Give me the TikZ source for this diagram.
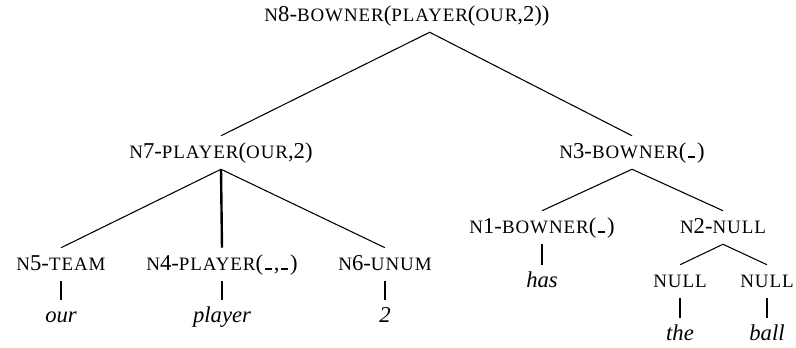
\documentclass[tikz,border=0pt]{standalone}
\usepackage{fontspec}
\setmainfont{Liberation Serif}
\newfontfamily\capsfont[LetterSpace=5]{Liberation Serif}
\usetikzlibrary{positioning}
% small capitals, faked
\newcommand{\sml}[1]{{\capsfont\fontsize{14.2}{15}\selectfont #1}}
% empty argument slot
\newcommand{\slot}{\kern1.5pt\rule{5pt}{1.3pt}\kern1.5pt}

\begin{document}
\begin{tikzpicture}[x=0.75pt,y=-0.75pt,
    lab/.style={font=\fontsize{17}{18}\selectfont, anchor=base, inner xsep=0pt, inner ysep=5.25pt, text height=11.25pt, text depth=3pt},
    word/.style={lab, font=\fontsize{17}{18}\selectfont\itshape},
    branch/.style={line width=0.8pt},
    stem/.style={line width=1.8pt}]
    \useasboundingbox (0,0) rectangle (796,347);

    % Root
    \node[lab] (n8) at (407,21) {\sml{N}8-\sml{BOWNER}(\sml{PLAYER}(\sml{OUR},2))};
    \coordinate (n8root) at ([xshift=17pt]n8.south);

    % Second level
    \node[lab] (n7) at (221,158) {\sml{N}7-\sml{PLAYER}(\sml{OUR},2)};
    \node[lab] (n3) at (632,158) {\sml{N}3-\sml{BOWNER}(\slot)};

    % Leaves of n7
    \node[lab] (n5) at (61,270) {\sml{N}5-\sml{TEAM}};
    \node[lab] (n4) at (222,270) {\sml{N}4-\sml{PLAYER}(\slot,\slot)};
    \node[lab] (n6) at (385,270) {\sml{N}6-\sml{UNUM}};
    \node[word] (our) at (61,322) {our};
    \node[word] (player) at (222,322) {player};
    \node[word] (two) at (385,322) {2};

    % Leaves of n3
    \node[lab] (n1) at (542,233) {\sml{N}1-\sml{BOWNER}(\slot)};
    \node[lab] (n2) at (723,233) {\sml{N}2-\sml{NULL}};
    \node[word] (has) at (542,287) {has};
    \node[lab] (nulla) at (680,287) {\sml{NULL}};
    \node[lab] (nullb) at (767,287) {\sml{NULL}};
    \node[word] (the) at (680,340) {the};
    \node[word] (ball) at (767,340) {ball};

    % Branches
    \draw[branch] (n7.north) -- (n8root) -- (n3.north);
    \draw[branch] (n5.north) -- (n7.south) -- (n6.north);
    \draw[stem] (n7.south) -- (n4.north);
    \draw[branch] (n1.north) -- (n3.south) -- (n2.north);
    \draw[branch] (nulla.north) -- (n2.south) -- (nullb.north);

    % Stems to words
    \draw[stem] (n5.south) -- (our.north);
    \draw[stem] (n4.south) -- (player.north);
    \draw[stem] (n6.south) -- (two.north);
    \draw[stem] (n1.south) -- (has.north);
    \draw[stem] (nulla.south) -- (the.north);
    \draw[stem] (nullb.south) -- (ball.north);
\end{tikzpicture}
\end{document}
